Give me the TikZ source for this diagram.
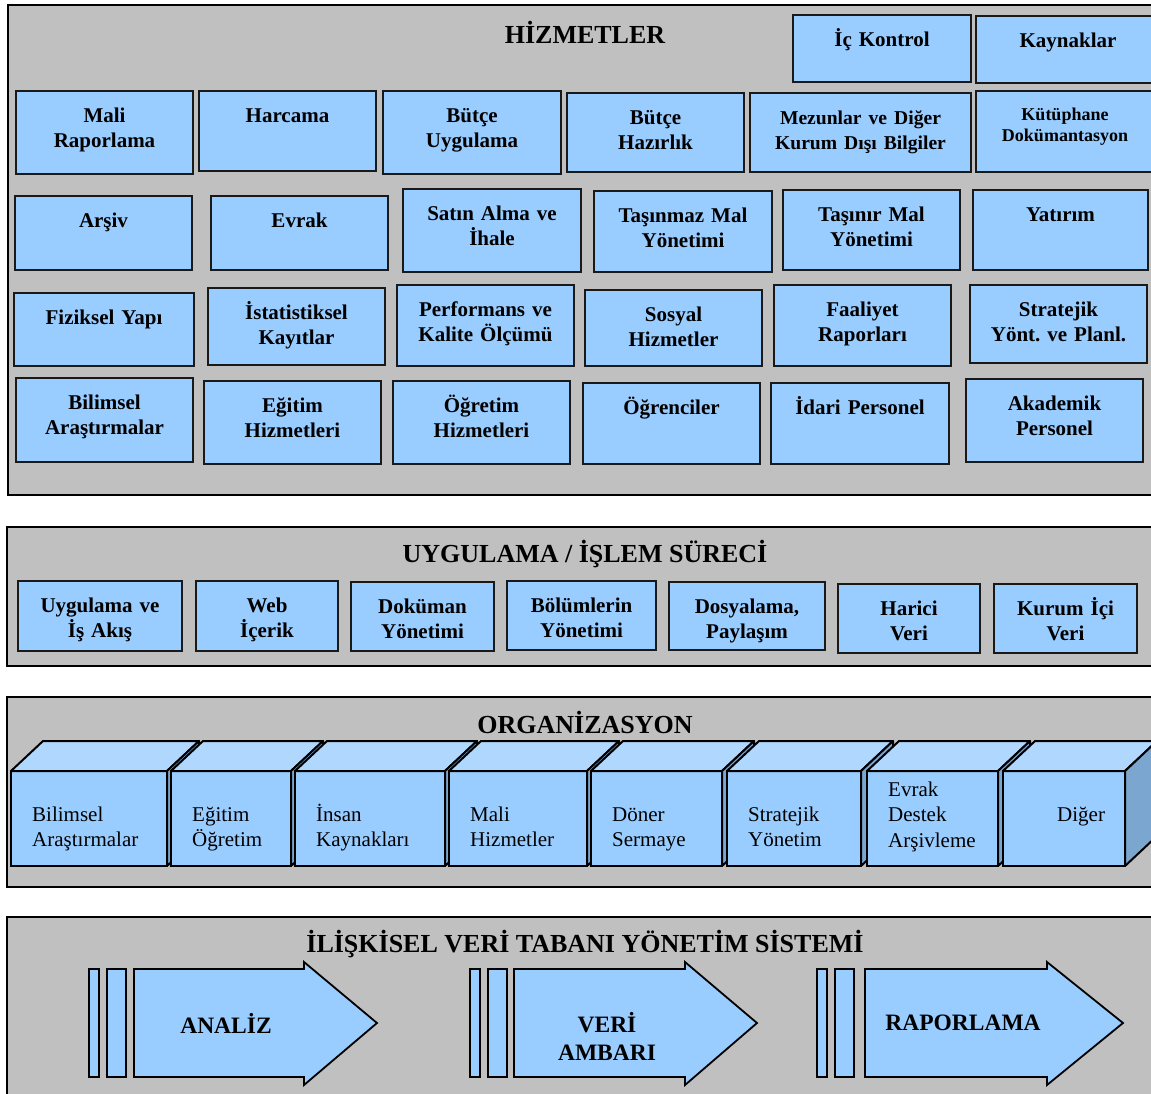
\documentclass[tikz,border=0pt]{standalone}
\usepackage{fontspec}
\setmainfont{Liberation Serif}
\frenchspacing
\definecolor{panelgray}{HTML}{C0C0C0}
\definecolor{boxblue}{HTML}{99CCFF}
\definecolor{cubetop}{HTML}{B0D8FF}
\definecolor{cubeside}{HTML}{7BA6CF}

% service box: name, x1, y1, x2, y2, text (first baseline 31 below the top edge)
\newcommand\svcbox[6]{%
  \node[svc, anchor=north west, minimum width={#4-#2}, minimum height={#5-#3}] (#1) at (#2,#3) {};
  \node[svctext, anchor=base] (#1-t) at ([yshift=-31pt]#1.north) {#6};
}
% organisation cube: name, x1, x2, text, first baseline
\newcommand\orgcube[5]{%
  \node[cubefront, anchor=north west, minimum width={#3-#2}, minimum height=95] (#1) at (#2,771) {};
  \draw[cubeface, fill=cubetop] (#1.north west) -- ++(32,-30) -- ([xshift=32pt,yshift=30pt]#1.north east) -- (#1.north east) -- cycle;
  \draw[cubeface, fill=cubeside] (#1.north east) -- ++(32,-30) -- ++(0,95) -- (#1.south east) -- cycle;
  \node[cubetext, anchor=base west] (#1-t) at (#2+21,#5) {#4};
}
% stage arrow with two bars in front: bar x, body x, head x, tip x
\newcommand\stagearrow[4]{%
  \draw[stage] (#1,969) rectangle (#1+10,1077);
  \draw[stage] (#1+18,969) rectangle (#1+37,1077);
  \draw[stage] (#2,969) -- (#3,969) -- (#3,962) -- (#4,1023) -- (#3,1085) -- (#3,1077) -- (#2,1077) -- cycle;
}

\begin{document}
\begin{tikzpicture}[x=1pt,y=-1pt,
  panel/.style={draw=black, line width=2pt, fill=panelgray},
  svc/.style={draw=black!90, line width=2pt, fill=boxblue, inner sep=0pt, outer sep=0pt},
  svctext/.style={font={\fontsize{21}{25}\selectfont\bfseries}, align=center, text width=240pt, inner sep=0pt},
  smalltext/.style={font={\fontsize{18}{21}\selectfont\bfseries}, align=center, text width=240pt, inner sep=0pt},
  title/.style={font={\fontsize{26}{30}\selectfont\bfseries}, anchor=base, inner sep=0pt},
  cubefront/.style={draw=black, line width=2pt, fill=boxblue, inner sep=0pt, outer sep=0pt},
  cubeface/.style={draw=black, line width=2pt, line join=round},
  cubetext/.style={font={\fontsize{21}{25.5}\selectfont}, align=left, text width=150pt, inner sep=0pt},
  stage/.style={draw=black, line width=1.8pt, fill=boxblue},
  stagetext/.style={font={\fontsize{23.5}{28}\selectfont\bfseries}, align=center, text width=200pt, anchor=base, inner sep=0pt}
]
\useasboundingbox (0,0) rectangle (1151,1093);
\clip (0,0) rectangle (1151,1093);
\fill[white] (0,0) rectangle (1151,1093);

% ---------- HIZMETLER ----------
\draw[panel] (8,5) rectangle (1170,495);
\node[title] (t1) at (585,43) {HİZMETLER};

\svcbox{ic}{793}{15}{971}{82}{İç Kontrol}
\svcbox{kay}{976}{16}{1160}{83}{Kaynaklar}

\svcbox{mali}{16}{91}{193}{174}{Mali\\Raporlama}
\svcbox{harc}{199}{91}{376}{171}{Harcama}
\svcbox{butu}{383}{91}{561}{174}{Bütçe\\Uygulama}
\svcbox{buth}{567}{93}{744}{172}{Bütçe\\Hazırlık}
\svcbox{mez}{750}{93}{971}{172}{\fontsize{19.6}{24}\selectfont Mezunlar ve Diğer\\Kurum Dışı Bilgiler}
\node[svc, anchor=north west, minimum width=184, minimum height=81] (kut) at (976,91) {};
\node[smalltext, anchor=base] (kut-t) at (1065,120) {Kütüphane\\Dokümantasyon};

\svcbox{arsiv}{15}{196}{192}{270}{Arşiv}
\svcbox{evrak}{211}{196}{388}{270}{Evrak}
\svcbox{satin}{403}{189}{581}{272}{Satın Alma ve\\İhale}
\svcbox{tasmaz}{594}{191}{772}{272}{Taşınmaz Mal\\Yönetimi}
\svcbox{tasnir}{783}{190}{960}{270}{Taşınır Mal\\Yönetimi}
\svcbox{yat}{973}{190}{1148}{270}{Yatırım}

\svcbox{fiz}{14}{293}{194}{366}{Fiziksel Yapı}
\svcbox{ist}{208}{288}{385}{365}{İstatistiksel\\Kayıtlar}
\svcbox{perf}{397}{285}{574}{366}{Performans ve\\Kalite Ölçümü}
\svcbox{sos}{585}{290}{762}{366}{Sosyal\\Hizmetler}
\svcbox{faal}{774}{285}{951}{366}{Faaliyet\\Raporları}
\svcbox{strat}{970}{285}{1147}{363}{Stratejik\\Yönt. ve Planl.}

\svcbox{bil}{16}{378}{193}{462}{Bilimsel\\Araştırmalar}
\svcbox{egit}{204}{381}{381}{464}{Eğitim\\Hizmetleri}
\svcbox{ogr}{393}{381}{570}{464}{Öğretim\\Hizmetleri}
\svcbox{ogrc}{583}{383}{760}{464}{Öğrenciler}
\svcbox{idari}{771}{383}{949}{464}{İdari Personel}
\svcbox{akad}{966}{379}{1143}{462}{Akademik\\Personel}

% ---------- UYGULAMA / ISLEM SURECI ----------
\draw[panel] (7,527) rectangle (1170,666);
\node[title] (t2) at (585,562) {UYGULAMA / İŞLEM SÜRECİ};
\svcbox{uyg}{18}{581}{182}{651}{Uygulama ve\\İş Akış}
\svcbox{web}{196}{581}{338}{651}{Web\\İçerik}
\svcbox{dok}{351}{582}{494}{651}{Doküman\\Yönetimi}
\svcbox{bol}{507}{581}{656}{650}{Bölümlerin\\Yönetimi}
\svcbox{dos}{669}{582}{825}{650}{Dosyalama,\\Paylaşım}
\svcbox{har}{838}{584}{980}{653}{Harici\\Veri}
\svcbox{kur}{994}{584}{1137}{653}{Kurum İçi\\Veri}

% ---------- ORGANIZASYON ----------
\draw[panel] (7,697) rectangle (1170,887);
\node[title] (t3) at (585,733) {ORGANİZASYON};
\orgcube{c1}{11}{167}{Bilimsel\\Araştırmalar}{821}
\orgcube{c2}{171}{291}{Eğitim\\Öğretim}{821}
\orgcube{c3}{295}{445}{İnsan\\Kaynakları}{821}
\orgcube{c4}{449}{587}{Mali\\Hizmetler}{821}
\orgcube{c5}{591}{722}{Döner\\Sermaye}{821}
\orgcube{c6}{727}{861}{Stratejik\\Yönetim}{821}
\orgcube{c7}{867}{998}{Evrak\\Destek\\Arşivleme}{796}
\node[cubefront, anchor=north west, minimum width=122, minimum height=95] (c8) at (1003,771) {};
\draw[cubeface, fill=cubetop] (c8.north west) -- ++(32,-30) -- ([xshift=32pt,yshift=30pt]c8.north east) -- (c8.north east) -- cycle;
\draw[cubeface, fill=cubeside] (c8.north east) -- ++(32,-30) -- ++(0,95) -- (c8.south east) -- cycle;
\node[cubetext, anchor=base west] (c8-t) at (1057,821) {Diğer};

% ---------- ILISKISEL VERI TABANI ----------
\draw[panel] (7,917) rectangle (1170,1110);
\node[title] (t4) at (585,952) {İLİŞKİSEL VERİ TABANI YÖNETİM SİSTEMİ};
\stagearrow{89}{134}{304}{377}
\node[stagetext] (a1-t) at (226,1033) {ANALİZ};
\stagearrow{470}{514}{685}{757}
\node[stagetext] (a2-t) at (607,1032) {VERİ\\AMBARI};
\stagearrow{817}{865}{1047}{1123}
\node[stagetext] (a3-t) at (963,1030) {RAPORLAMA};
\end{tikzpicture}
\end{document}
